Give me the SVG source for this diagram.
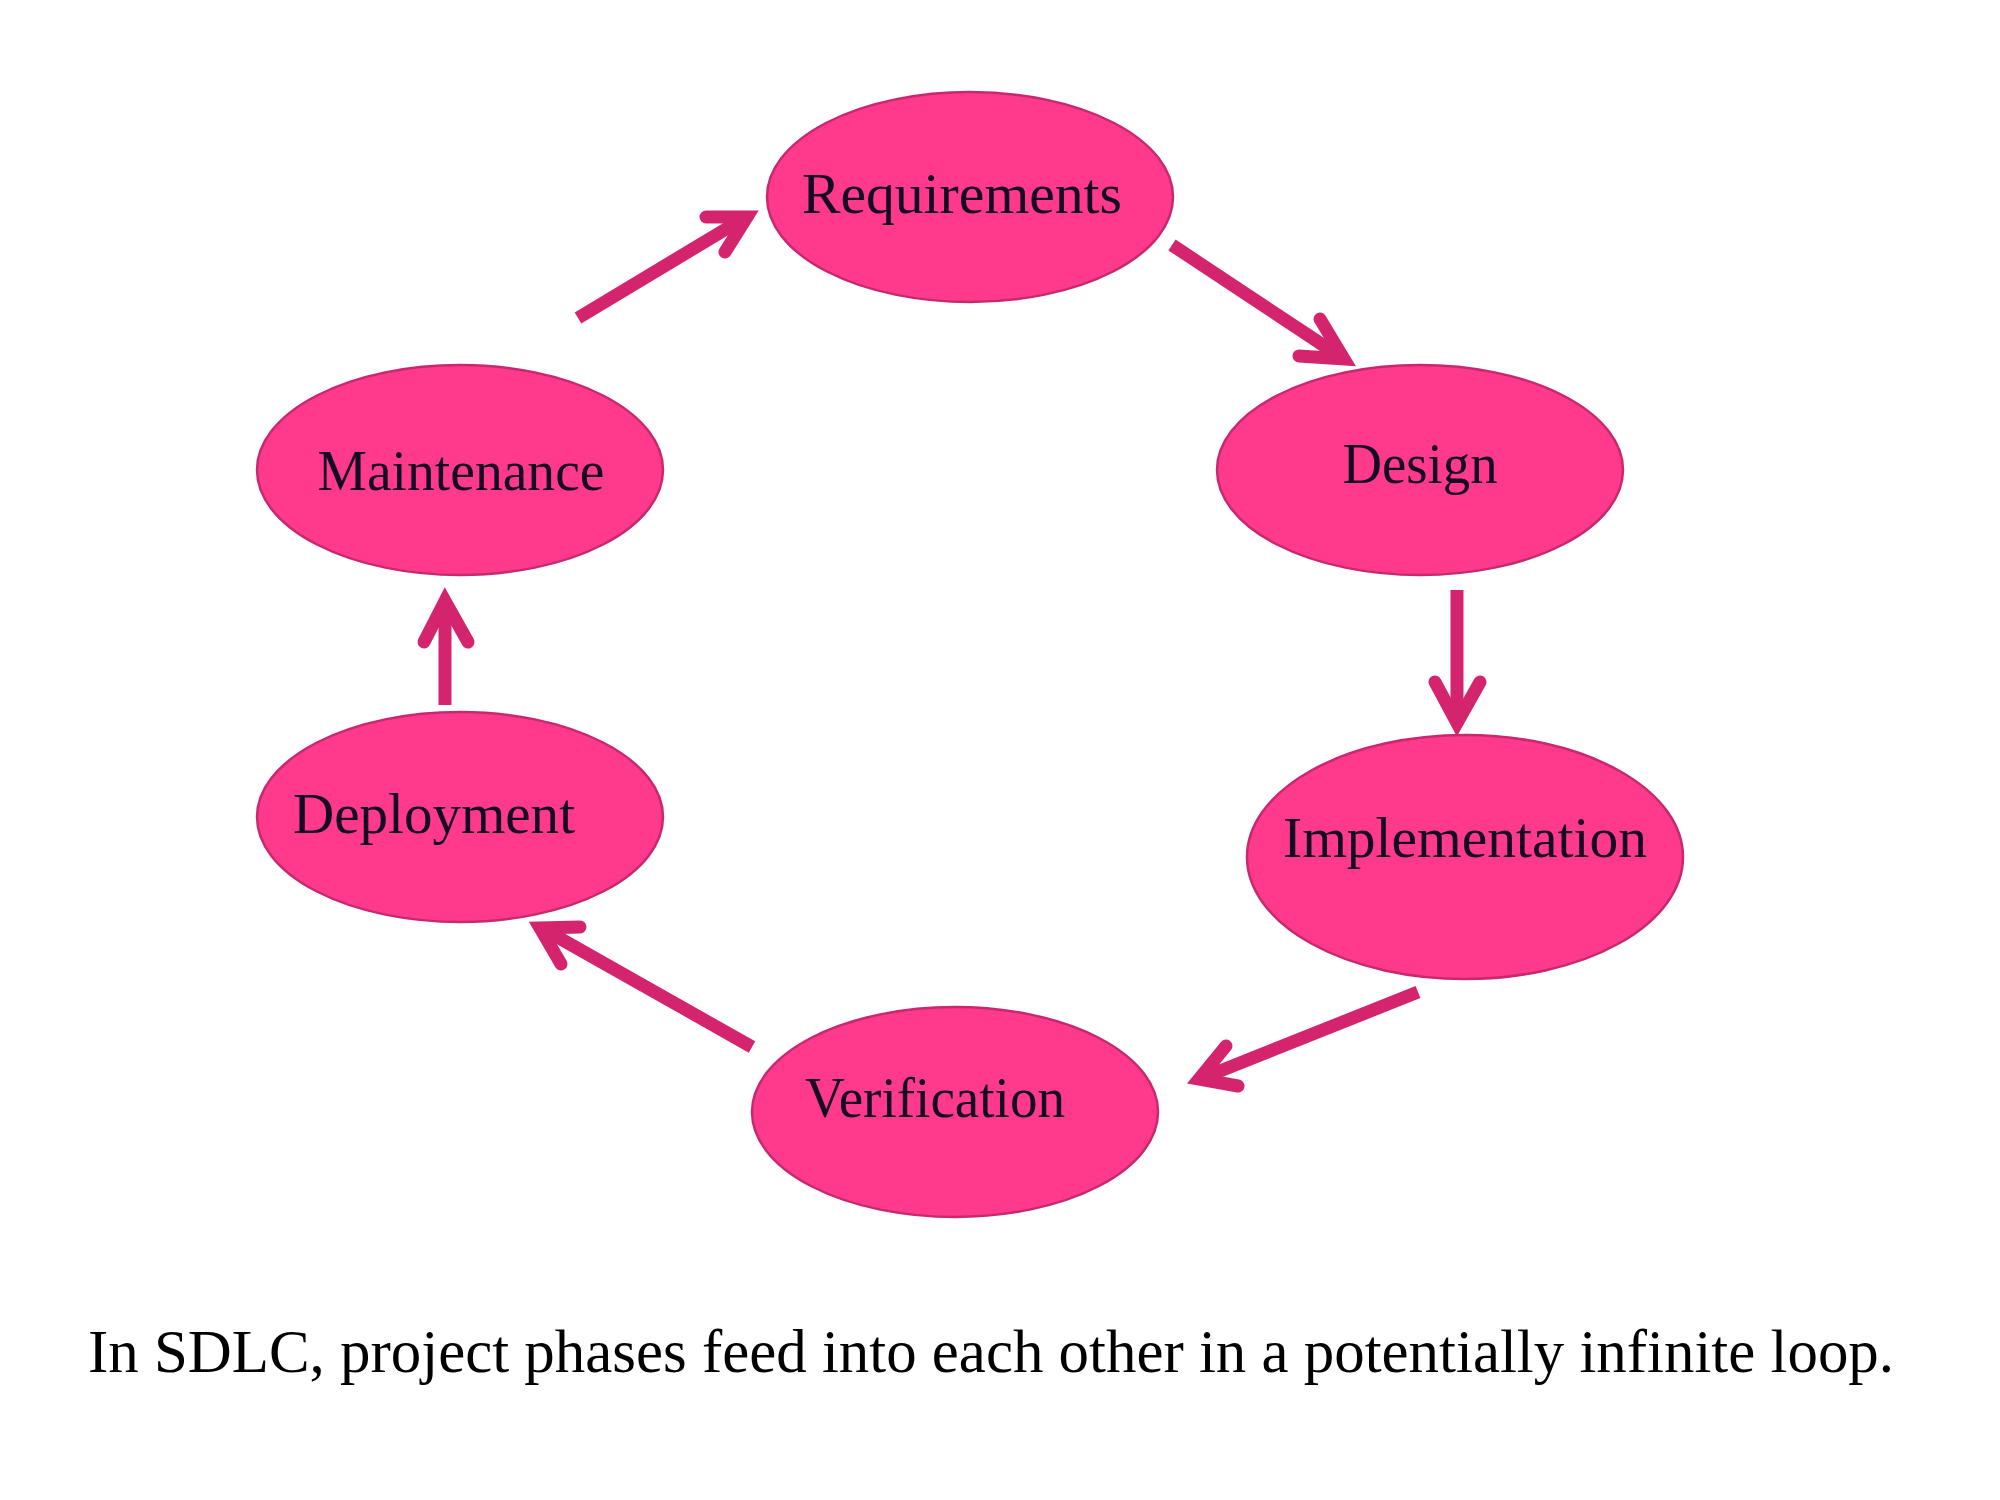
<svg xmlns="http://www.w3.org/2000/svg" width="2000" height="1500" viewBox="0 0 2000 1500">
<style>
.node ellipse{fill:#FF3A8C;stroke:#C8286E;stroke-width:2.5}
.node text{font-family:"Liberation Serif","Times New Roman",serif;font-size:57px;fill:#150a24;text-anchor:middle}
.arrow{fill:none;stroke:#D4246E;stroke-width:13}
.arrow .head{stroke-linejoin:miter;stroke-miterlimit:10;stroke-linecap:round}
.caption{font-family:"Liberation Serif","Times New Roman",serif;font-size:61px;fill:#000}
</style>
<rect width="2000" height="1500" fill="#fff"/>
<g id="connectors">
  <g class="arrow" id="req-design">
    <line x1="1172" y1="245" x2="1338" y2="355"/>
    <polyline class="head" points="1320,319 1344,359 1299,356"/>
  </g>
  <g class="arrow" id="design-impl">
    <line x1="1457" y1="590" x2="1457" y2="716"/>
    <polyline class="head" points="1435,682 1457,723 1480,682"/>
  </g>
  <g class="arrow" id="impl-verif">
    <line x1="1418" y1="992" x2="1205" y2="1077"/>
    <polyline class="head" points="1226,1046 1199,1079 1238,1086"/>
  </g>
  <g class="arrow" id="verif-deploy">
    <line x1="752" y1="1047" x2="545" y2="930"/>
    <polyline class="head" points="561,964 540,928 580,927"/>
  </g>
  <g class="arrow" id="deploy-maint">
    <line x1="445" y1="705" x2="445" y2="608"/>
    <polyline class="head" points="424,642 445,601 468,642"/>
  </g>
  <g class="arrow" id="maint-req">
    <line x1="578" y1="318" x2="741" y2="220"/>
    <polyline class="head" points="706,217 747,217 725,252"/>
  </g>
</g>
<g id="requirements" class="node">
  <ellipse cx="970" cy="197" rx="203" ry="105"/>
  <text x="962" y="213" textLength="320" lengthAdjust="spacingAndGlyphs">Requirements</text>
</g>
<g id="design" class="node">
  <ellipse cx="1420" cy="470" rx="203" ry="105"/>
  <text x="1420" y="483" textLength="155" lengthAdjust="spacingAndGlyphs">Design</text>
</g>
<g id="implementation" class="node">
  <ellipse cx="1465" cy="857" rx="218" ry="122"/>
  <text x="1465" y="857" textLength="364" lengthAdjust="spacingAndGlyphs">Implementation</text>
</g>
<g id="verification" class="node">
  <ellipse cx="955" cy="1112" rx="203" ry="105"/>
  <text x="935" y="1117" textLength="260" lengthAdjust="spacingAndGlyphs">Verification</text>
</g>
<g id="deployment" class="node">
  <ellipse cx="460" cy="817" rx="203" ry="105"/>
  <text x="434" y="833" textLength="282" lengthAdjust="spacingAndGlyphs">Deployment</text>
</g>
<g id="maintenance" class="node">
  <ellipse cx="460" cy="470" rx="203" ry="105"/>
  <text x="461" y="490" textLength="287" lengthAdjust="spacingAndGlyphs">Maintenance</text>
</g>
<text class="caption" x="88" y="1372" textLength="1806" lengthAdjust="spacingAndGlyphs">In SDLC, project phases feed into each other in a potentially infinite loop.</text>
</svg>
